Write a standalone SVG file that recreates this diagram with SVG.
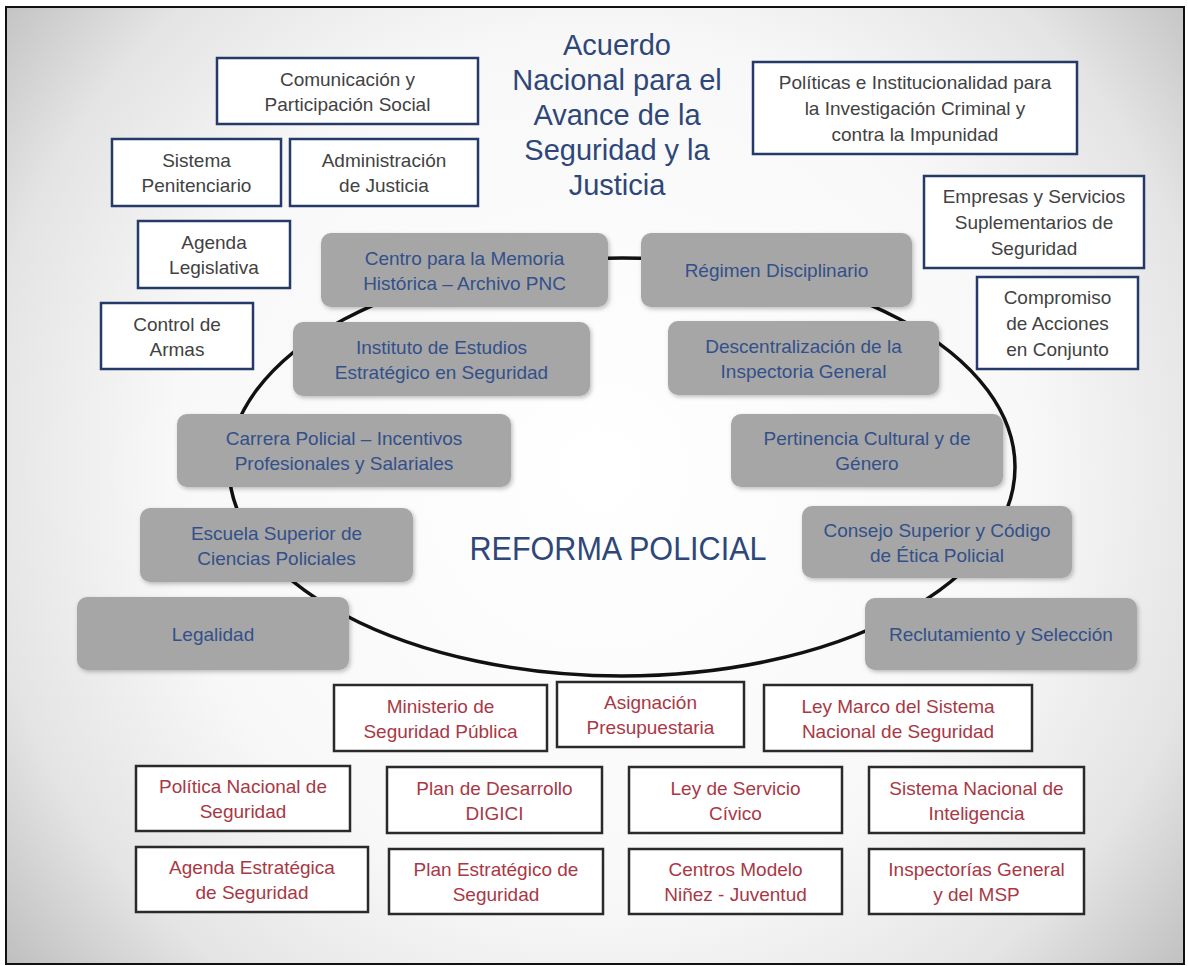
<svg xmlns="http://www.w3.org/2000/svg" width="1188" height="966" viewBox="0 0 1188 966">
<defs>
<radialGradient id="bg" gradientUnits="userSpaceOnUse" cx="600" cy="470" r="780">
<stop offset="0" stop-color="#ffffff"/>
<stop offset="0.55" stop-color="#f8f8f8"/>
<stop offset="0.8" stop-color="#e4e4e4"/>
<stop offset="1" stop-color="#bdbdbd"/>
</radialGradient>
<filter id="sh" x="-10%" y="-10%" width="125%" height="130%">
<feDropShadow dx="1.5" dy="2" stdDeviation="2" flood-color="#000" flood-opacity="0.25"/>
</filter>
<style>
.nb{fill:#ffffff;stroke:#243a68;stroke-width:2.5}
.nt{font-family:"Liberation Sans",Arial,sans-serif;font-size:19px;fill:#424242;text-anchor:middle}
.gb{fill:#a6a6a6;filter:url(#sh)}
.gt{font-family:"Liberation Sans",Arial,sans-serif;font-size:19px;fill:#33508a;text-anchor:middle}
.rb{fill:#ffffff;stroke:#2a2a2a;stroke-width:2.5}
.rt{font-family:"Liberation Sans",Arial,sans-serif;font-size:19px;fill:#a93845;text-anchor:middle}
.tt{font-family:"Liberation Sans",Arial,sans-serif;font-size:29px;fill:#2e4778;text-anchor:middle}
</style>
</defs>
<rect x="0" y="0" width="1188" height="966" fill="#ffffff"/>
<rect x="6" y="7" width="1178" height="957" fill="url(#bg)" stroke="#111" stroke-width="2"/>

<g id="title">
<text class="tt" x="617" y="55">Acuerdo</text>
<text class="tt" x="617" y="90">Nacional para el</text>
<text class="tt" x="617" y="125">Avance de la</text>
<text class="tt" x="617" y="160">Seguridad y la</text>
<text class="tt" x="617" y="195">Justicia</text>
</g>

<g id="connectors">
<ellipse cx="622" cy="467" rx="393" ry="209" fill="none" stroke="#111" stroke-width="3.5"/>
</g>

<g id="center-label">
<text x="618" y="560" font-family="'Liberation Sans',Arial,sans-serif" font-size="34" fill="#2e4778" text-anchor="middle" textLength="297" lengthAdjust="spacingAndGlyphs">REFORMA POLICIAL</text>
</g>

<g id="n-comunicacion"><rect class="nb" x="217" y="58" width="261" height="66"/><text class="nt" x="347.5" y="85.5">Comunicación y</text><text class="nt" x="347.5" y="110.5">Participación Social</text></g>
<g id="n-sistema-pen"><rect class="nb" x="112" y="139" width="169" height="67"/><text class="nt" x="196.5" y="167">Sistema</text><text class="nt" x="196.5" y="192">Penitenciario</text></g>
<g id="n-administracion"><rect class="nb" x="290" y="139" width="188" height="67"/><text class="nt" x="384" y="167">Administración</text><text class="nt" x="384" y="192">de Justicia</text></g>
<g id="n-agenda-leg"><rect class="nb" x="138" y="221" width="152" height="67"/><text class="nt" x="214" y="249">Agenda</text><text class="nt" x="214" y="274">Legislativa</text></g>
<g id="n-control"><rect class="nb" x="101" y="303" width="152" height="66"/><text class="nt" x="177" y="330.5">Control de</text><text class="nt" x="177" y="355.5">Armas</text></g>
<g id="n-politicas"><rect class="nb" x="753" y="62" width="324" height="92"/><text class="nt" x="915" y="89">Políticas e Institucionalidad para</text><text class="nt" x="915" y="115">la Investigación Criminal y</text><text class="nt" x="915" y="141">contra la Impunidad</text></g>
<g id="n-empresas"><rect class="nb" x="924" y="176" width="220" height="92"/><text class="nt" x="1034" y="203">Empresas y Servicios</text><text class="nt" x="1034" y="229">Suplementarios de</text><text class="nt" x="1034" y="255">Seguridad</text></g>
<g id="n-compromiso"><rect class="nb" x="977" y="277" width="161" height="92"/><text class="nt" x="1057.5" y="304">Compromiso</text><text class="nt" x="1057.5" y="330">de Acciones</text><text class="nt" x="1057.5" y="356">en Conjunto</text></g>

<g id="g-centro"><rect class="gb" x="321" y="233" width="287" height="74" rx="10"/><text class="gt" x="464.5" y="264.5">Centro para la Memoria</text><text class="gt" x="464.5" y="289.5">Histórica – Archivo PNC</text></g>
<g id="g-regimen"><rect class="gb" x="641" y="233" width="271" height="74" rx="10"/><text class="gt" x="776.5" y="277">Régimen Disciplinario</text></g>
<g id="g-instituto"><rect class="gb" x="293" y="322" width="297" height="74" rx="10"/><text class="gt" x="441.5" y="353.5">Instituto de Estudios</text><text class="gt" x="441.5" y="378.5">Estratégico en Seguridad</text></g>
<g id="g-descentralizacion"><rect class="gb" x="668" y="321" width="271" height="74" rx="10"/><text class="gt" x="803.5" y="352.5">Descentralización de la</text><text class="gt" x="803.5" y="377.5">Inspectoria General</text></g>
<g id="g-carrera"><rect class="gb" x="177" y="414" width="334" height="73" rx="10"/><text class="gt" x="344" y="445">Carrera Policial – Incentivos</text><text class="gt" x="344" y="470">Profesionales y Salariales</text></g>
<g id="g-pertinencia"><rect class="gb" x="731" y="414" width="272" height="73" rx="10"/><text class="gt" x="867" y="445">Pertinencia Cultural y de</text><text class="gt" x="867" y="470">Género</text></g>
<g id="g-escuela"><rect class="gb" x="140" y="508" width="273" height="74" rx="10"/><text class="gt" x="276.5" y="539.5">Escuela Superior de</text><text class="gt" x="276.5" y="564.5">Ciencias Policiales</text></g>
<g id="g-consejo"><rect class="gb" x="802" y="506" width="270" height="72" rx="10"/><text class="gt" x="937" y="536.5">Consejo Superior y Código</text><text class="gt" x="937" y="561.5">de Ética Policial</text></g>
<g id="g-legalidad"><rect class="gb" x="77" y="597" width="272" height="73" rx="10"/><text class="gt" x="213" y="640.5">Legalidad</text></g>
<g id="g-reclutamiento"><rect class="gb" x="865" y="598" width="272" height="72" rx="10"/><text class="gt" x="1001" y="641">Reclutamiento y Selección</text></g>

<g id="r-ministerio"><rect class="rb" x="334" y="685" width="213" height="66"/><text class="rt" x="440.5" y="712.5">Ministerio de</text><text class="rt" x="440.5" y="737.5">Seguridad Pública</text></g>
<g id="r-asignacion"><rect class="rb" x="557" y="682" width="187" height="65"/><text class="rt" x="650.5" y="709">Asignación</text><text class="rt" x="650.5" y="734">Presupuestaria</text></g>
<g id="r-leymarco"><rect class="rb" x="764" y="685" width="268" height="66"/><text class="rt" x="898" y="712.5">Ley Marco del Sistema</text><text class="rt" x="898" y="737.5">Nacional de Seguridad</text></g>
<g id="r-politica"><rect class="rb" x="136" y="766" width="214" height="65"/><text class="rt" x="243" y="793">Política Nacional de</text><text class="rt" x="243" y="818">Seguridad</text></g>
<g id="r-plan-desarrollo"><rect class="rb" x="387" y="767" width="215" height="66"/><text class="rt" x="494.5" y="794.5">Plan de Desarrollo</text><text class="rt" x="494.5" y="819.5">DIGICI</text></g>
<g id="r-ley-servicio"><rect class="rb" x="629" y="767" width="213" height="66"/><text class="rt" x="735.5" y="794.5">Ley de Servicio</text><text class="rt" x="735.5" y="819.5">Cívico</text></g>
<g id="r-sni"><rect class="rb" x="869" y="767" width="215" height="66"/><text class="rt" x="976.5" y="794.5">Sistema Nacional de</text><text class="rt" x="976.5" y="819.5">Inteligencia</text></g>
<g id="r-agenda-est"><rect class="rb" x="136" y="847" width="232" height="65"/><text class="rt" x="252" y="874">Agenda Estratégica</text><text class="rt" x="252" y="899">de Seguridad</text></g>
<g id="r-plan-est"><rect class="rb" x="389" y="849" width="214" height="65"/><text class="rt" x="496" y="876">Plan Estratégico de</text><text class="rt" x="496" y="901">Seguridad</text></g>
<g id="r-centros"><rect class="rb" x="629" y="849" width="213" height="65"/><text class="rt" x="735.5" y="876">Centros Modelo</text><text class="rt" x="735.5" y="901">Niñez - Juventud</text></g>
<g id="r-inspectorias"><rect class="rb" x="869" y="849" width="215" height="65"/><text class="rt" x="976.5" y="876">Inspectorías General</text><text class="rt" x="976.5" y="901">y del MSP</text></g>
</svg>
